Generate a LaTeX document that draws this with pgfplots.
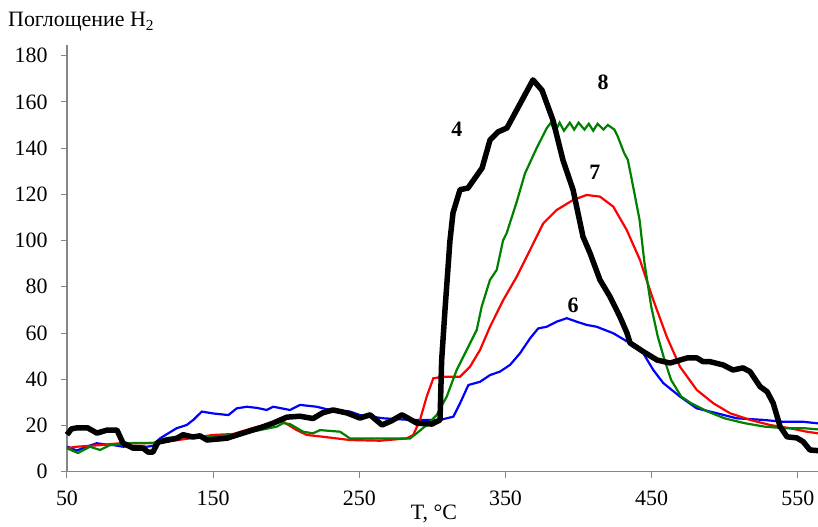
\documentclass[border=0pt]{standalone}
\usepackage{fontspec}
\setmainfont{Liberation Serif}
\usepackage{pgfplots}
\pgfplotsset{compat=1.18}
\definecolor{axgray}{RGB}{134,134,134}
\definecolor{cgreen}{RGB}{0,128,0}
\begin{document}
\begin{tikzpicture}[x=1bp,y=1bp]
\path[use as bounding box] (-67,-55.3) rectangle (751,471.7);
\begin{axis}[
  at={(0,0)}, anchor=south west,
  scale only axis, width=751bp, height=426.7bp,
  xmin=50, xmax=563.8, ymin=0, ymax=184.6,
  axis x line*=bottom, axis y line*=left,
  axis line style={axgray, line width=1.3bp, -},
  xtick={50,150,250,350,450,550},
  ytick={0,20,...,180},
  tick align=outside, major tick length=6bp,
  tick style={axgray, line width=1bp},
  /pgf/number format/assume math mode=true,
  ticklabel style={font=\fontsize{22}{26}\selectfont},
  x tick label style={yshift=-10bp},
  y tick label style={xshift=-10bp},
  clip=false,
]
\addplot[blue, line width=2.2bp] coordinates {
(50,10.8)(53,10.2)(56.6,9.1)(62,10.5)(70.3,12.3)(76,11.8)(81.7,11.5)(88.5,10.8)(96,11.2)(104.5,10.8)(109,11.2)(113.6,14.4)(119,16.5)(125,18.8)(131.9,20.2)(136.4,22.4)(142.2,26)(150,25.2)(160.4,24.5)(166.1,27.4)(173,28.1)(180,27.6)(186.6,26.7)(191.1,28.1)(202.6,26.7)(209.4,28.9)(220.8,28.1)(229.9,26.7)(243.6,26)(250.5,24.5)(266.4,23.1)(284.7,22.4)(305.2,22.4)(314.3,23.8)(318.9,29.6)(324.6,37.5)(332.6,38.9)(339.4,41.8)(346.2,43.3)(353.1,46.2)(359.9,51.2)(366.8,57.7)(372.4,62)(378.2,62.7)(385,64.9)(391.9,66.4)(398.7,64.9)(405.5,63.5)(412.4,62.7)(423.7,59.9)(435.2,55.6)(444.3,51.2)(451.1,44)(458,38.3)(469.4,32.5)(480.8,27.4)(494.5,25.3)(508.2,23.1)(526.4,22.4)(540,21.6)(553.7,21.6)(563.8,20.9)
};
\addplot[red, line width=2.2bp] coordinates {
(50,10.2)(56.6,10.8)(72.6,11.5)(86.3,12.3)(100,12.3)(108.8,12.4)(120,13.2)(135,14.5)(149.9,15.9)(163.6,16.3)(177.3,18.9)(191,21)(198,21.6)(207.1,18)(214,15.9)(225.3,15.1)(234.5,14.4)(243.6,13.7)(264.1,13.4)(282.4,14.4)(286.9,15.9)(291.5,22.4)(296.1,32.5)(300.6,40.4)(307.4,41.1)(318.9,41.1)(325.7,45.4)(332.6,52.7)(339.4,62.7)(348.5,74.3)(357.7,84.4)(364.5,93)(370.2,100.3)(375.9,107.5)(385,113.2)(396.4,117.6)(405.5,119.7)(414.6,119)(423.7,114.7)(432.9,104.6)(442,91.6)(451.1,74.3)(460.3,58.4)(469.4,45.4)(480.8,35.4)(492.2,29.6)(503.6,25.3)(517.3,22.4)(531,20.2)(544.7,18.8)(556.1,17.3)(563.8,16.6)
};
\addplot[cgreen, line width=2.2bp] coordinates {
(50,10.1)(57.5,8.1)(65.7,10.8)(72.6,9.4)(79.4,11.5)(95.2,12.4)(108.8,12.4)(118.2,14.6)(131.9,15.1)(145.6,15.1)(163.6,15.9)(182,18)(193.5,19.5)(197.8,21)(202.6,20.6)(211.5,17.3)(218.3,16.6)(223.1,18)(236.8,17.3)(243.6,14.4)(259.3,14.4)(284.7,14.4)(289.2,16.6)(296.1,20.2)(302.9,24.5)(309.8,32.5)(316.6,44)(323.5,52.7)(330.3,61.3)(333.7,71.4)(339.4,83)(344,87.3)(348.3,100)(350.8,103.2)(357.7,116.8)(363.3,129)(371.3,140)(378.2,148.6)(381,151)(384,147)(387,151)(390,147.5)(394,151)(397,148)(400,151)(404,148)(407,150.5)(410,147.5)(413,150.5)(417,148)(420,150)(424.5,148)(426.8,145)(431.2,137.8)(433.7,134.9)(438.2,120.5)(441.7,109)(445.1,90.2)(449.7,71.4)(454.2,58.4)(458.8,48.3)(463.3,39.7)(470.2,32.5)(477,29.6)(488.4,26)(499.8,23.1)(513.5,21)(527.2,19.5)(540.8,18.8)(554.5,18.8)(563.8,18.3)
};
\addplot[black, line width=5.5bp, line join=round] coordinates {
(50,16)(53,18.5)(57,19)(64,19)(70.5,16.7)(77.4,18)(84.2,18)(88.3,12.4)(95.2,10.2)(102,10.2)(105.4,8.5)(108.8,8.5)(112.3,12.8)(125.3,14.5)(129.4,16)(136.2,15)(141,15.5)(145.8,13.7)(159.5,14.5)(168.4,16.3)(184,19.4)(191,21)(196,22.4)(200.5,23.6)(209.4,24)(218.3,23)(225,25.5)(232,26.7)(241.6,25.4)(250.4,23.2)(257.3,24.6)(265.5,20.2)(272,22)(279.2,24.6)(289.4,21)(299.7,20.6)(305.2,22.4)(306.3,48)(308.6,70)(312,100)(314.1,112)(318.9,122)(324.3,122.7)(334,131.4)(339.4,143.5)(344.9,147)(351,148.7)(368.8,169.5)(375,165)(382.5,152)(389.3,134.8)(396.2,122)(403,101.7)(407.8,94.6)(414.6,83)(421.5,75.7)(428.3,67)(433.1,60)(435.2,55.7)(444.1,52)(453.7,48.3)(462.5,47)(474.2,49.2)(481,49.2)(485.1,47.6)(489.9,47.6)(498.8,46.2)(505.6,44)(512.5,44.9)(517.3,43.3)(524.2,36.8)(529,34.6)(533.1,29.7)(537.9,19.5)(542.6,15.1)(549.4,14.6)(553.6,13)(558.3,9.4)(563.8,9.1)
};
\node[font=\bfseries\fontsize{22}{26}\selectfont] at (axis cs:316.8,148) {4};
\node[font=\bfseries\fontsize{22}{26}\selectfont] at (axis cs:416.7,168.6) {8};
\node[font=\bfseries\fontsize{22}{26}\selectfont] at (axis cs:411.2,129.6) {7};
\node[font=\bfseries\fontsize{22}{26}\selectfont] at (axis cs:396.2,72) {6};
\end{axis}
\node[anchor=base west, inner sep=0pt, font=\fontsize{22}{26}\selectfont] at (-59,444.7) {Поглощение H\textsubscript{2}};
\node[anchor=base, inner sep=0pt, font=\fontsize{22}{26}\selectfont] at (367,-48) {T, °C};
\end{tikzpicture}
\end{document}
